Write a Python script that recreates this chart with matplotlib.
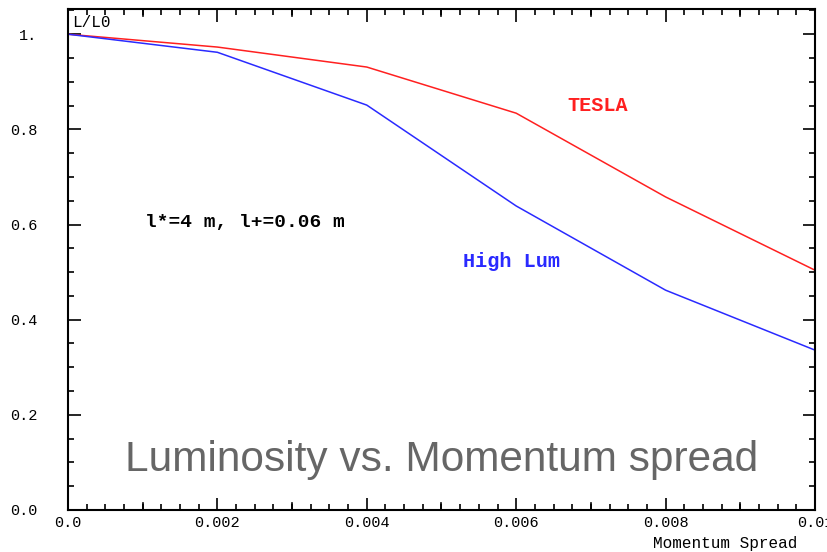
import matplotlib.pyplot as plt
import numpy as np
from matplotlib.ticker import MultipleLocator

# momentum spread points and relative luminosity
spread = [0.0, 0.002, 0.004, 0.006, 0.008, 0.01]
lum_tesla = [1.0, 0.973, 0.931, 0.834, 0.658, 0.504]
lum_highlum = [1.0, 0.962, 0.851, 0.639, 0.462, 0.336]

xticks = [0.0, 0.002, 0.004, 0.006, 0.008, 0.01]
xticklabels = ["0.0", "0.002", "0.004", "0.006", "0.008", "0.01"]
yticks = [0.0, 0.2, 0.4, 0.6, 0.8, 1.0]
yticklabels = ["0.0", "0.2", "0.4", "0.6", "0.8", "1."]

mono = "Liberation Mono"

fig = plt.figure(figsize=(8.28, 5.52), dpi=100)
ax = fig.add_axes([0.0821, 0.0761, 0.9022, 0.9076])

ax.plot(spread, lum_tesla, color="#ff2020", lw=1.1)
ax.plot(spread, lum_highlum, color="#2a2aff", lw=1.1)

ax.set_xlim(0, 0.01)
ax.set_ylim(0, 1.053)

ax.set_xticks(xticks)
ax.set_xticklabels(xticklabels, family=mono, fontsize=11)
ax.set_yticks(yticks)
ax.set_yticklabels(yticklabels, family=mono, fontsize=11)
ax.xaxis.set_minor_locator(MultipleLocator(0.00025))
ax.yaxis.set_minor_locator(MultipleLocator(0.05))
ax.tick_params(which="both", direction="in", top=True, right=True, width=1.2)
ax.tick_params(which="major", length=9)
ax.tick_params(which="minor", length=4)
ax.tick_params(axis="x", which="major", pad=4)
ax.tick_params(axis="y", which="major", pad=22)
for lab in ax.get_yticklabels():
    lab.set_horizontalalignment("right")

# medium ticks at the odd thousandths
for xm in [0.001, 0.003, 0.005, 0.007, 0.009]:
    ax.plot([xm, xm], [0, 0.015], color="black", lw=1.2, clip_on=False)
    ax.plot([xm, xm], [1.053, 1.038], color="black", lw=1.2, clip_on=False)

for sp in ax.spines.values():
    sp.set_linewidth(1.5)

ax.text(0.00006, 1.024, "L/L0", family=mono, fontsize=11.5, va="center", ha="left")
ax.text(0.00669, 0.851, "TESLA", family=mono, fontsize=14.5, weight="bold",
        color="#ff2020", va="center")
ax.text(0.00529, 0.523, "High Lum", family=mono, fontsize=14.5, weight="bold",
        color="#2a2aff", va="center")
ax.text(0.00103, 0.605, "l*=4 m, l+=0.06 m", family=mono, fontsize=14,
        weight="bold", va="center")

ax.text(0.0050, 0.105, "Luminosity vs. Momentum spread", family="Liberation Sans",
        fontsize=30.5, color="#666666", ha="center", va="center")

fig.text(0.8755, 0.016, "Momentum Spread", family=mono, fontsize=11.5,
         ha="center", va="center")

fig.savefig("out.png", dpi=100)
